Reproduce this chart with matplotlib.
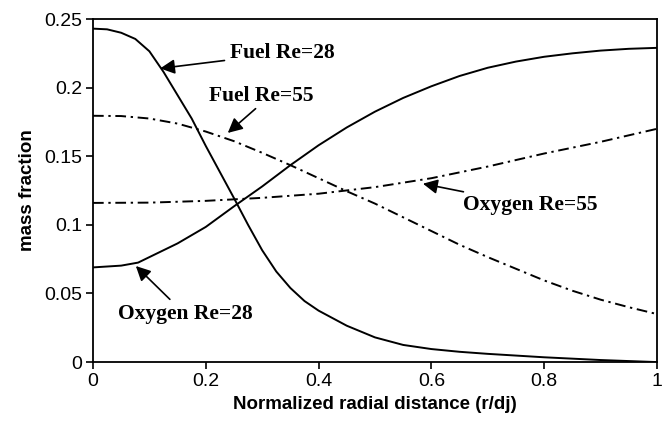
import matplotlib
matplotlib.use("Agg")
import matplotlib.pyplot as plt

# Radial profiles of mass fraction vs normalized radial distance (r/dj)
x_fuel28 = [0.0, 0.025, 0.05, 0.075, 0.10, 0.125, 0.15, 0.175, 0.20, 0.225, 0.25,
            0.275, 0.30, 0.325, 0.35, 0.375, 0.40, 0.45, 0.50, 0.55, 0.60, 0.65,
            0.70, 0.80, 0.90, 1.0]
y_fuel28 = [0.243, 0.2425, 0.240, 0.2355, 0.2265, 0.2115, 0.1945, 0.1775, 0.1575,
            0.1385, 0.1195, 0.100, 0.0815, 0.066, 0.054, 0.0445, 0.0375, 0.0265,
            0.018, 0.0125, 0.0095, 0.0075, 0.006, 0.0035, 0.0015, 0.0]

x_oxy28 = [0.0, 0.05, 0.08, 0.10, 0.15, 0.20, 0.25, 0.30, 0.35, 0.40, 0.45, 0.50,
           0.55, 0.60, 0.65, 0.70, 0.75, 0.80, 0.85, 0.90, 0.95, 1.0]
y_oxy28 = [0.069, 0.0703, 0.0725, 0.0765, 0.0865, 0.0985, 0.1135, 0.128, 0.1435,
           0.158, 0.171, 0.1825, 0.1925, 0.201, 0.2085, 0.2145, 0.219, 0.2225,
           0.225, 0.227, 0.2283, 0.229]

x_fuel55 = [0.0, 0.05, 0.10, 0.15, 0.20, 0.25, 0.30, 0.35, 0.40, 0.45, 0.50, 0.55,
            0.60, 0.65, 0.70, 0.75, 0.80, 0.85, 0.90, 0.95, 1.0]
y_fuel55 = [0.1795, 0.1793, 0.1775, 0.1738, 0.168, 0.161, 0.1525, 0.1435, 0.134,
            0.1245, 0.1155, 0.1055, 0.0955, 0.0855, 0.0765, 0.068, 0.0595, 0.052,
            0.0455, 0.040, 0.035]

x_oxy55 = [0.0, 0.10, 0.20, 0.30, 0.40, 0.50, 0.60, 0.70, 0.80, 0.90, 1.0]
y_oxy55 = [0.116, 0.1162, 0.1175, 0.1197, 0.1227, 0.1275, 0.134, 0.1425, 0.152,
           0.1605, 0.170]

x_ticks = [0, 0.2, 0.4, 0.6, 0.8, 1]
x_ticklabels = ["0", "0.2", "0.4", "0.6", "0.8", "1"]
y_ticks = [0, 0.05, 0.1, 0.15, 0.2, 0.25]
y_ticklabels = ["0", "0.05", "0.1", "0.15", "0.2", "0.25"]

sans = ["Liberation Sans", "DejaVu Sans"]
serif = ["Liberation Serif", "DejaVu Serif"]

fig = plt.figure(figsize=(6.69, 4.23), dpi=100)
ax = fig.add_axes([0.139, 0.144, 0.843, 0.811])

dashdot = (0, (5.5, 2.4, 1.2, 2.4))
ax.plot(x_fuel28, y_fuel28, color="black", lw=1.4)
ax.plot(x_oxy28, y_oxy28, color="black", lw=1.4)
ax.plot(x_fuel55, y_fuel55, color="black", lw=1.4, linestyle=dashdot)
ax.plot(x_oxy55, y_oxy55, color="black", lw=1.4, linestyle=dashdot)

ax.set_xlim(0, 1)
ax.set_ylim(0, 0.25)
ax.set_xticks(x_ticks)
ax.set_xticklabels(x_ticklabels, fontfamily=sans, fontsize=14)
ax.set_yticks(y_ticks)
ax.set_yticklabels(y_ticklabels, fontfamily=sans, fontsize=14)
ax.tick_params(direction="out", length=5, width=1.2, pad=3)
for s in ax.spines.values():
    s.set_linewidth(1.3)

ax.set_xlabel("Normalized radial distance (r/dj)", fontfamily=sans,
              fontweight="bold", fontsize=13.5, labelpad=4)
ax.set_ylabel("mass fraction", fontfamily=sans, fontweight="bold",
              fontsize=13.5, labelpad=6)

arrow = dict(arrowstyle="-|>", color="black", lw=1.2, mutation_scale=22,
             shrinkA=2, shrinkB=0)
txt = dict(fontfamily=serif, fontweight="bold", fontsize=15.5, color="black")

ax.annotate("Fuel Re=28", xy=(0.119, 0.214), xytext=(0.243, 0.225),
            ha="left", va="center", arrowprops=arrow, **txt)
ax.annotate("Fuel Re=55", xy=(0.239, 0.167), xytext=(0.298, 0.194),
            ha="center", va="center",
            arrowprops=dict(arrow, relpos=(0.5, 0.1), shrinkA=0), **txt)
ax.annotate("Oxygen Re=55", xy=(0.585, 0.130), xytext=(0.656, 0.1144),
            ha="left", va="center", arrowprops=arrow, **txt)
ax.annotate("Oxygen Re=28", xy=(0.076, 0.070), xytext=(0.163, 0.035),
            ha="center", va="center", arrowprops=arrow, **txt)

fig.savefig("out.png", dpi=100)
